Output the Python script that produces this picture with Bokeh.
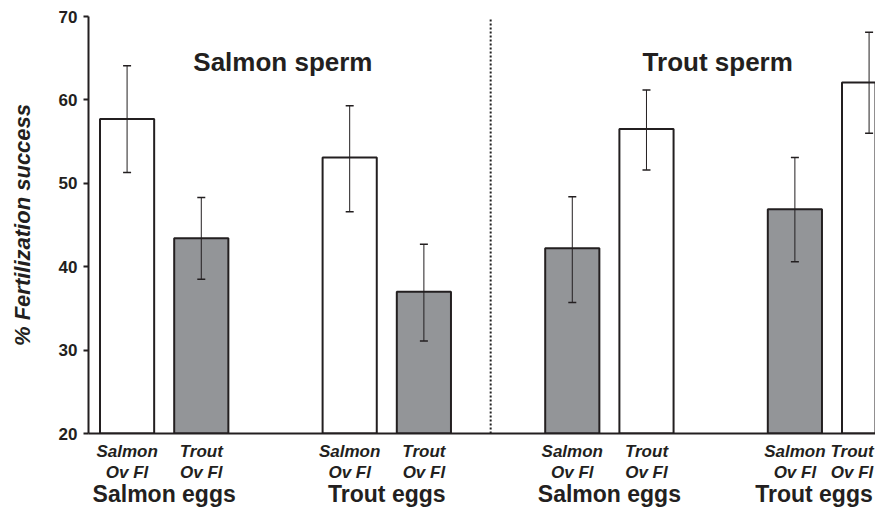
from bokeh.plotting import figure
from bokeh.models import (Range1d, FixedTicker, ColumnDataSource, Whisker, TeeHead,
                          Label, LinearAxis)
from bokeh.embed import file_html
from bokeh.resources import INLINE

# ---------------- data ----------------
sperm_titles = ["Salmon sperm", "Trout sperm"]
egg_groups = ["Salmon eggs", "Trout eggs", "Salmon eggs", "Trout eggs"]
sperm = ["Salmon", "Salmon", "Salmon", "Salmon", "Trout", "Trout", "Trout", "Trout"]
ovfl = ["Salmon", "Trout", "Salmon", "Trout", "Salmon", "Trout", "Salmon", "Trout"]
ovfl_suffix = "Ov Fl"
means = [57.7, 43.4, 53.1, 37.0, 42.2, 56.5, 46.9, 62.1]
err_low = [51.3, 38.5, 46.6, 31.1, 35.7, 51.6, 40.6, 56.0]
err_high = [64.1, 48.3, 59.3, 42.7, 48.4, 61.2, 53.1, 68.1]
y_ticks = [20, 30, 40, 50, 60, 70]

# ---------------- style ----------------
FONT = "Liberation Sans"
INK = "#231f20"
GRAY = "#939598"

W, H = 875, 509
LEFT, TOP, BOTTOM = 88, 16, 75
PX_Y = (H - TOP - BOTTOM) / 50.0   # pixels per % unit
PX_X = 74.2     # pixels per bar slot
Y_MIN, Y_MAX = 20, 70
X_START = -0.52
X_END = X_START + (W - LEFT) / PX_X

xs = [(i // 2) * 3 + (i % 2) for i in range(len(means))]
fills = ["white" if s == o else GRAY for s, o in zip(sperm, ovfl)]

src = ColumnDataSource(dict(x=xs, top=means, lower=err_low, upper=err_high, fill=fills))

p = figure(width=W, height=H,
           x_range=Range1d(X_START, X_END), y_range=Range1d(Y_MIN, Y_MAX),
           output_backend="svg", toolbar_location=None,
           x_axis_type=None, y_axis_type=None,
           min_border_left=LEFT, min_border_right=0, min_border_top=TOP,
           min_border_bottom=BOTTOM)
p.outline_line_color = None
p.background_fill_color = "white"
p.border_fill_color = "white"

# ---- y axis
yaxis = LinearAxis(ticker=FixedTicker(ticks=y_ticks))
yaxis.axis_line_width = 2
yaxis.axis_line_color = INK
yaxis.major_tick_line_width = 2
yaxis.major_tick_line_color = INK
yaxis.major_tick_out = 5
yaxis.major_tick_in = 0
yaxis.minor_tick_line_color = None
yaxis.major_label_standoff = 6
yaxis.major_label_text_font = FONT
yaxis.major_label_text_font_style = "bold"
yaxis.major_label_text_font_size = "17px"
yaxis.major_label_text_color = INK
yaxis.axis_label = "% Fertilization success"
yaxis.axis_label_text_font = FONT
yaxis.axis_label_text_font_style = "bold italic"
yaxis.axis_label_text_font_size = "22px"
yaxis.axis_label_text_color = INK
yaxis.axis_label_standoff = 21
p.add_layout(yaxis, "left")


# ---- x axes: category rows stacked below the frame
def nudge(vals, last_px):
    """keep the right-most label inside the picture"""
    out = list(vals)
    out[-1] = out[-1] - last_px / PX_X
    return out


cat_pos = nudge(xs, 17)
grp_pos = nudge([(xs[2 * i] + xs[2 * i + 1]) / 2 for i in range(len(egg_groups))], 18)


def make_axis(pos, labels, size, style, standoff, line):
    ax = LinearAxis(ticker=FixedTicker(ticks=pos),
                    major_label_overrides={t: l for t, l in zip(pos, labels)})
    ax.major_tick_line_color = None
    ax.minor_tick_line_color = None
    ax.major_tick_out = 0
    ax.major_tick_in = 0
    ax.major_label_standoff = standoff
    ax.major_label_text_font = FONT
    ax.major_label_text_font_style = style
    ax.major_label_text_font_size = size
    ax.major_label_text_color = INK
    if line:
        ax.axis_line_width = 2
        ax.axis_line_color = INK
    else:
        ax.axis_line_color = None
    return ax


p.add_layout(make_axis(cat_pos, ovfl, "17px", "bold italic", 8, True), "below")
p.add_layout(make_axis(cat_pos, [ovfl_suffix] * len(ovfl), "17px", "bold italic", -1, False), "below")
p.add_layout(make_axis(grp_pos, egg_groups, "23px", "bold", -4, False), "below")

# ---- bars and error bars
p.vbar(x="x", top="top", bottom=Y_MIN, width=0.73, source=src,
       fill_color="fill", line_color=INK, line_width=2)

wh = Whisker(source=src, base="x", upper="upper", lower="lower",
             line_color=INK, line_width=1, level="overlay",
             upper_head=TeeHead(size=8, line_color=INK, line_width=1.5),
             lower_head=TeeHead(size=8, line_color=INK, line_width=1.5))
p.add_layout(wh)

# dotted divider between the two sperm groups
div_x = (xs[3] + xs[4]) / 2 - 0.1
p.segment(x0=[div_x], y0=[Y_MIN], x1=[div_x], y1=[Y_MAX - 0.3],
          line_color="#222222", line_width=2, line_dash="2 2")

for t, tx in zip(sperm_titles, [2.1, 7.96]):
    p.add_layout(Label(x=tx, y=Y_MAX - 46 / PX_Y, text=t, text_font=FONT,
                       text_font_style="bold", text_font_size="26px",
                       text_color=INK, text_align="center",
                       text_baseline="alphabetic"))

open("out.html", "w").write(file_html(p, INLINE))
